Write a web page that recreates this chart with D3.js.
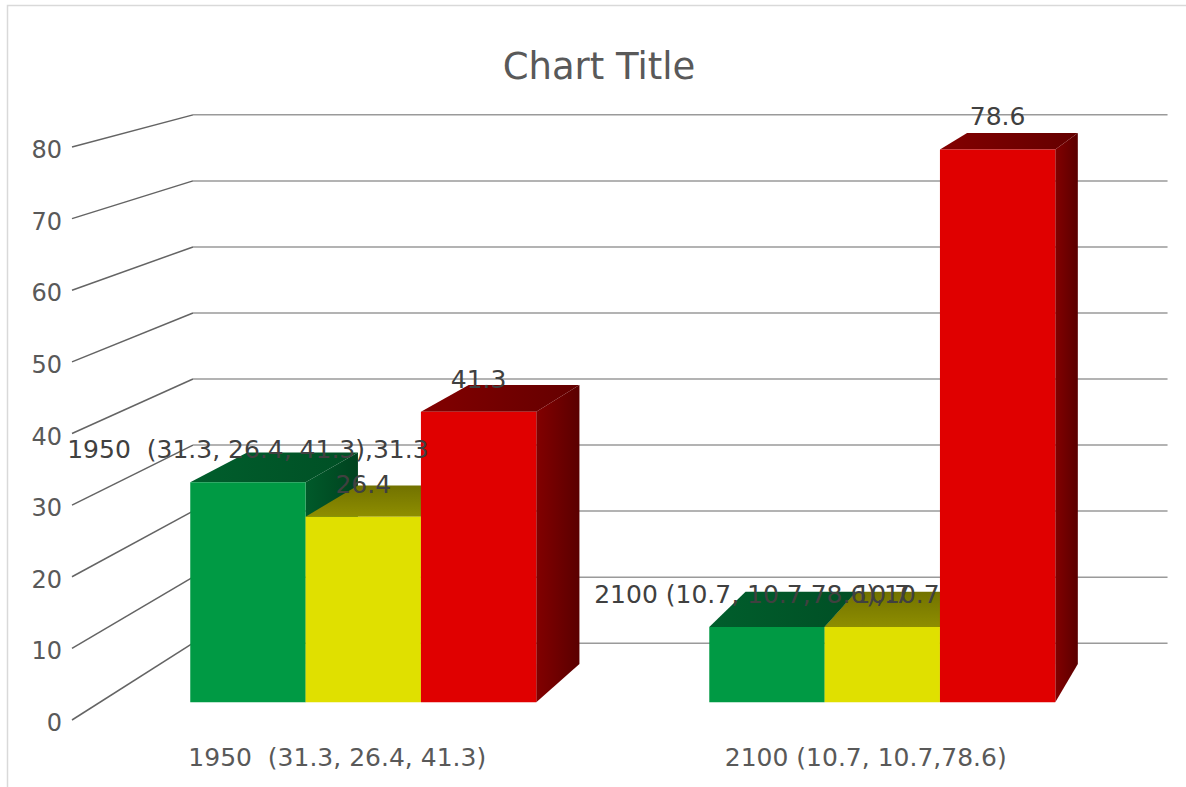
<!DOCTYPE html>
<html>
<head>
<meta charset="utf-8">
<script src="https://cdn.jsdelivr.net/npm/d3@7"></script>
<style>
    body { margin: 0; background: #ffffff; }
    svg text { font-family: "DejaVu Sans", sans-serif; white-space: pre; }
</style>
</head>
<body>
<div id="chart"></div>
<script>
// chart data
var categories = ["1950  (31.3, 26.4, 41.3)", "2100 (10.7, 10.7,78.6)"];
var seriesNames = ["Series1", "Series2", "Series3"];
var series1Values = [31.3, 10.7];
var series2Values = [26.4, 10.7];
var series3Values = [41.3, 78.6];
var yTicks = [0, 10, 20, 30, 40, 50, 60, 70, 80];

(function(d3) {

    var width = 1186, height = 787;

    var svg = d3.select("#chart").append("svg")
        .attr("width", width)
        .attr("height", height);

    // gradients for the shaded faces
    var defs = svg.append("defs");
    var addGradient = function(id, x2, y2, c1, c2) {
        var g = defs.append("linearGradient").attr("id", id)
            .attr("x1", 0).attr("y1", 0).attr("x2", x2).attr("y2", y2);
        g.append("stop").attr("offset", "0%").attr("stop-color", c1);
        g.append("stop").attr("offset", "100%").attr("stop-color", c2);
    };
    addGradient("topG", 1, 0, "#005e2c", "#004f25");
    addGradient("sideG", 1, 0, "#005a2a", "#00421f");
    addGradient("topY", 0, 1, "#727200", "#8e8e00");
    addGradient("sideY", 1, 0, "#7a7a00", "#5e5e00");
    addGradient("topR", 1, 0, "#820000", "#640000");
    addGradient("sideR", 1, 0, "#820000", "#5a0000");

    var styles = [
        { front: "#009a44", top: "url(#topG)", side: "url(#sideG)" },
        { front: "#e0e000", top: "url(#topY)", side: "url(#sideY)" },
        { front: "#e00000", top: "url(#topR)", side: "url(#sideR)" }
    ];

    // chart frame
    svg.append("rect")
        .attr("x", 7.5).attr("y", 5.5)
        .attr("width", 1300).attr("height", 900)
        .attr("fill", "none")
        .attr("stroke", "#d9d9d9")
        .attr("stroke-width", 1.5);

    svg.append("text")
        .attr("x", 599).attr("y", 79)
        .attr("text-anchor", "middle")
        .attr("font-size", 37)
        .attr("fill", "#595959")
        .text("Chart Title");

    // perspective: front plane scales, projected towards a vanishing point
    var vp = { x: 1623, y: -265 };
    var y = d3.scaleLinear().domain([0, 80]).range([720, 147]);
    var wallX = d3.scaleLinear().domain([0, 1]).range([72, 1129]);
    var depth = d3.scaleLinear().domain([0, 1]).range([1, 0.922]);

    var proj = function(x, v, z) {
        var s = depth(z);
        return [vp.x + (x - vp.x) * s, vp.y + (y(v) - vp.y) * s];
    };

    var x0 = d3.scaleBand().domain(categories).range([76, 1133]).padding(0);
    var x1 = d3.scaleBand().domain(seriesNames).range([0, x0.bandwidth()])
        .paddingInner(0).paddingOuter(0.75);

    // walls: side wall lines and back wall grid
    var walls = svg.append("g").attr("class", "walls");
    walls.selectAll("line.side")
        .data(yTicks).enter().append("line")
        .attr("class", "side")
        .attr("x1", function(d) { return proj(wallX(0), d, 0)[0]; })
        .attr("y1", function(d) { return proj(wallX(0), d, 0)[1]; })
        .attr("x2", function(d) { return proj(wallX(0), d, 1)[0]; })
        .attr("y2", function(d) { return proj(wallX(0), d, 1)[1]; })
        .attr("stroke", "#646464")
        .attr("stroke-width", 1.5);

    walls.selectAll("line.back")
        .data(yTicks).enter().append("line")
        .attr("class", "back")
        .attr("x1", function(d) { return proj(wallX(0), d, 1)[0]; })
        .attr("y1", function(d) { return proj(wallX(0), d, 1)[1]; })
        .attr("x2", function(d) { return proj(wallX(1), d, 1)[0]; })
        .attr("y2", function(d) { return proj(wallX(1), d, 1)[1]; })
        .attr("stroke", "#9a9a9a")
        .attr("stroke-width", 1.5);

    walls.selectAll("text.tick")
        .data(yTicks).enter().append("text")
        .attr("class", "tick")
        .attr("x", function(d) { return proj(wallX(0), d, 0)[0] - 10; })
        .attr("y", function(d) { return proj(wallX(0), d, 0)[1] + 11; })
        .attr("text-anchor", "end")
        .attr("font-size", 24)
        .attr("fill", "#595959")
        .text(function(d) { return d; });

    // bars, left to right so nearer faces cover hidden sides
    var values = [series1Values, series2Values, series3Values];
    var bars = [];
    categories.forEach(function(cat, ci) {
        seriesNames.forEach(function(sn, si) {
            bars.push({
                cat: cat, series: si, value: values[si][ci],
                xl: x0(cat) + x1(sn), xr: x0(cat) + x1(sn) + x1.bandwidth()
            });
        });
    });

    var zFront = 0.23, zBack = 0.73;
    var poly = function(pts) { return pts.map(function(p) { return p.join(","); }).join(" "); };

    var barGroups = svg.append("g").attr("class", "bars")
        .selectAll("g").data(bars).enter().append("g");

    barGroups.append("polygon")
        .attr("points", function(d) {
            return poly([proj(d.xl, d.value, zFront), proj(d.xr, d.value, zFront),
                proj(d.xr, d.value, zBack), proj(d.xl, d.value, zBack)]);
        })
        .attr("fill", function(d) { return styles[d.series].top; });

    barGroups.append("polygon")
        .attr("points", function(d) {
            return poly([proj(d.xr, 0, zFront), proj(d.xr, 0, zBack),
                proj(d.xr, d.value, zBack), proj(d.xr, d.value, zFront)]);
        })
        .attr("fill", function(d) { return styles[d.series].side; });

    barGroups.append("polygon")
        .attr("points", function(d) {
            return poly([proj(d.xl, 0, zFront), proj(d.xr, 0, zFront),
                proj(d.xr, d.value, zFront), proj(d.xl, d.value, zFront)]);
        })
        .attr("fill", function(d) { return styles[d.series].front; });

    // data labels (first series also shows the category name)
    svg.append("g").attr("class", "labels")
        .selectAll("text").data(bars).enter().append("text")
        .attr("x", function(d) { return (proj(d.xl, d.value, zFront)[0] + proj(d.xr, d.value, zFront)[0]) / 2; })
        .attr("y", function(d) { return proj(d.xl, d.value, zFront)[1] - 24; })
        .attr("text-anchor", "middle")
        .attr("font-size", 25)
        .attr("fill", "#404040")
        .text(function(d) { return d.series === 0 ? d.cat + "," + d.value : d.value; });

    // category axis labels
    svg.append("g").attr("class", "categories")
        .selectAll("text").data(categories).enter().append("text")
        .attr("x", function(d) { return x0(d) + x0.bandwidth() / 2 - 3; })
        .attr("y", 766)
        .attr("text-anchor", "middle")
        .attr("font-size", 25)
        .attr("fill", "#595959")
        .text(function(d) { return d; });

})(d3);
</script>
</body>
</html>
